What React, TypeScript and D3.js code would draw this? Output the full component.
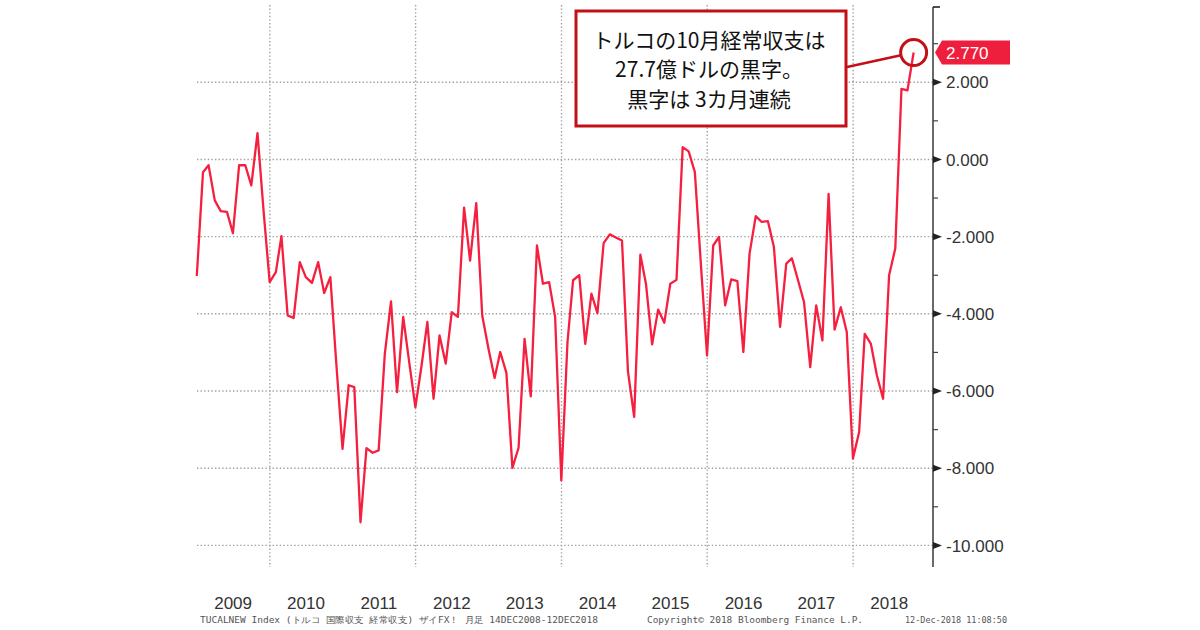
import * as d3 from "d3";

// Turkey monthly current account balance (USD bn), Dec 2008 - Oct 2018
const startMonth = new Date(2008, 11, 1);
const values2008 = [-3.02];
const values2009 = [-0.33, -0.15, -1.06, -1.34, -1.36, -1.91, -0.15, -0.15, -0.67, 0.68, -1.3, -3.18];
const values2010 = [-2.92, -1.99, -4.04, -4.11, -2.66, -3.05, -3.2, -2.66, -3.46, -3.05, -5.3, -7.5];
const values2011 = [-5.85, -5.9, -9.4, -7.48, -7.6, -7.54, -5.03, -3.68, -6.03, -4.08, -5.25, -6.42];
const values2012 = [-5.34, -4.21, -6.2, -4.56, -5.29, -3.96, -4.08, -1.25, -2.62, -1.13, -4.05, -4.9];
const values2013 = [-5.66, -4.99, -5.53, -7.99, -7.47, -4.65, -6.14, -2.23, -3.22, -3.18, -4.08, -8.32];
const values2014 = [-4.73, -3.13, -3.0, -4.78, -3.48, -3.98, -2.17, -1.94, -2.02, -2.1, -5.5, -6.67];
const values2015 = [-2.47, -3.22, -4.79, -3.89, -4.23, -3.22, -3.12, 0.32, 0.21, -0.33, -2.7, -5.08];
const values2016 = [-2.23, -2.01, -3.78, -3.11, -3.15, -4.99, -2.44, -1.47, -1.62, -1.6, -2.27, -4.34];
const values2017 = [-2.7, -2.56, -3.13, -3.7, -5.38, -3.78, -4.69, -0.89, -4.41, -3.83, -4.47, -7.75];
const values2018 = [-7.06, -4.52, -4.78, -5.6, -6.2, -3.0, -2.31, 1.83, 1.79, 2.77];

const yearLabels = ["2009", "2010", "2011", "2012", "2013", "2014", "2015", "2016", "2017", "2018"];
const gridYears = [2010, 2012, 2014, 2016, 2018];
const yTicks = [2, 0, -2, -4, -6, -8, -10];
const yMinorTicks = [3, 1, -1, -3, -5, -7, -9];

const noteLines = ["トルコの10月経常収支は", "27.7億ドルの黒字。", "黒字は 3カ月連続"];
const footerLeft = "TUCALNEW Index (トルコ 国際収支 経常収支) ザイFX！ 月足 14DEC2008-12DEC2018";
const footerMid = "Copyright© 2018 Bloomberg Finance L.P.";
const footerRight = "12-Dec-2018 11:08:50";

const W = 1200;
const H = 630;
const plot = { left: 197, right: 933, top: 7, bottom: 567 };
const lineColor = "#f5203f";
const noteColor = "#c40f16";
const axisFont = "'Liberation Sans', Arial, sans-serif";

export default function App() {
  const values = [
    ...values2008, ...values2009, ...values2010, ...values2011, ...values2012,
    ...values2013, ...values2014, ...values2015, ...values2016, ...values2017, ...values2018,
  ];
  // Bloomberg plots monthly points at month end
  const data = values.map((v, i) => ({
    date: new Date(startMonth.getFullYear(), startMonth.getMonth() + i + 1, 0),
    value: v,
  }));
  const last = data[data.length - 1];

  const x = d3.scaleTime()
    .domain([new Date(2009, 0, 1), new Date(2019, 1, 5)])
    .range([plot.left, plot.right]);
  const y = d3.scaleLinear()
    .domain([-10.56, 3.95])
    .range([plot.bottom, plot.top]);

  const line = d3.line<{ date: Date; value: number }>()
    .x(d => x(d.date))
    .y(d => y(d.value));

  const lx = x(last.date);
  const ly = y(last.value);
  const r = 13;
  // connector from note box to circle edge
  const boxR = 847, boxCy = 67;
  const ang = Math.atan2(ly - boxCy, lx - boxR);
  const cx2 = lx - r * Math.cos(ang);
  const cy2 = ly - r * Math.sin(ang);

  return (
    <svg width={W} height={H} style={{ position: "absolute", left: 0, top: 0, background: "#fff" }}>
      {/* grid */}
      <g stroke="#a0a0a0" strokeWidth={1.4} strokeDasharray="1.4 2.2">
        {d3.range(-10, 4, 2).map(v => (
          <line key={"h" + v} x1={plot.left} x2={plot.right} y1={y(v)} y2={y(v)} />
        ))}
        {gridYears.map(yr => (
          <line key={"v" + yr} x1={x(new Date(yr, 0, 1))} x2={x(new Date(yr, 0, 1))} y1={5} y2={plot.bottom} />
        ))}
      </g>

      {/* series */}
      <path d={line(data) ?? ""} fill="none" stroke={lineColor} strokeWidth={2.3} strokeLinejoin="round" />

      {/* right axis */}
      <line x1={plot.right} x2={plot.right} y1={plot.top} y2={plot.bottom} stroke="#444" strokeWidth={1.6} />
      <line x1={plot.right} x2={plot.right + 7} y1={plot.top} y2={plot.top} stroke="#222" strokeWidth={1.6} />
      {yMinorTicks.map(v => (
        <line key={"m" + v} x1={plot.right} x2={plot.right + 5} y1={y(v)} y2={y(v)} stroke="#444" strokeWidth={1.2} />
      ))}
      {yTicks.map(v => (
        <g key={"t" + v}>
          <polygon
            points={`${plot.right},${y(v) - 3.5} ${plot.right + 9},${y(v)} ${plot.right},${y(v) + 3.5}`}
            fill="#222"
          />
          <text
            x={plot.right + 13}
            y={y(v)}
            dy="0.36em"
            fontFamily={axisFont}
            fontSize={17}
            fill="#333"
          >
            {d3.format(".3f")(v).replace("−", "-")}
          </text>
        </g>
      ))}

      {/* last value label */}
      <polygon
        points={`${plot.right + 2},${ly} ${plot.right + 9},${ly - 12} ${1010},${ly - 12} ${1010},${ly + 12} ${plot.right + 9},${ly + 12}`}
        fill="#ee1f3d"
      />
      <text x={plot.right + 13} y={ly} dy="0.36em" fontFamily={axisFont} fontSize={17} fill="#fff">
        {d3.format(".3f")(last.value)}
      </text>

      {/* year labels */}
      {yearLabels.map(lbl => (
        <text
          key={lbl}
          x={x(new Date(+lbl, 6, 1))}
          y={609}
          textAnchor="middle"
          fontFamily={axisFont}
          fontSize={17}
          fill="#333"
        >
          {lbl}
        </text>
      ))}

      {/* footer */}
      <g fontFamily="'DejaVu Sans Mono', monospace" fontSize={9} fill="#555">
        <text x={200} y={623} textLength={398} lengthAdjust="spacingAndGlyphs">{footerLeft}</text>
        <text x={647} y={623} textLength={216} lengthAdjust="spacingAndGlyphs">{footerMid}</text>
        <text x={905} y={623} textLength={102} lengthAdjust="spacingAndGlyphs">{footerRight}</text>
      </g>

      {/* annotation */}
      <line x1={boxR} y1={boxCy} x2={cx2} y2={cy2} stroke={noteColor} strokeWidth={2.5} />
      <circle cx={lx} cy={ly} r={r} fill="none" stroke={noteColor} strokeWidth={3} />
      <rect x={576} y={11} width={270} height={115} fill="#fff" stroke={noteColor} strokeWidth={3} />
      {noteLines.map((t, i) => (
        <text
          key={i}
          x={709}
          y={40 + i * 29.5}
          dy="0.36em"
          textAnchor="middle"
          fontFamily="'Noto Sans CJK JP', sans-serif"
          fontSize={21}
          fill="#111"
        >
          {t}
        </text>
      ))}
    </svg>
  );
}
